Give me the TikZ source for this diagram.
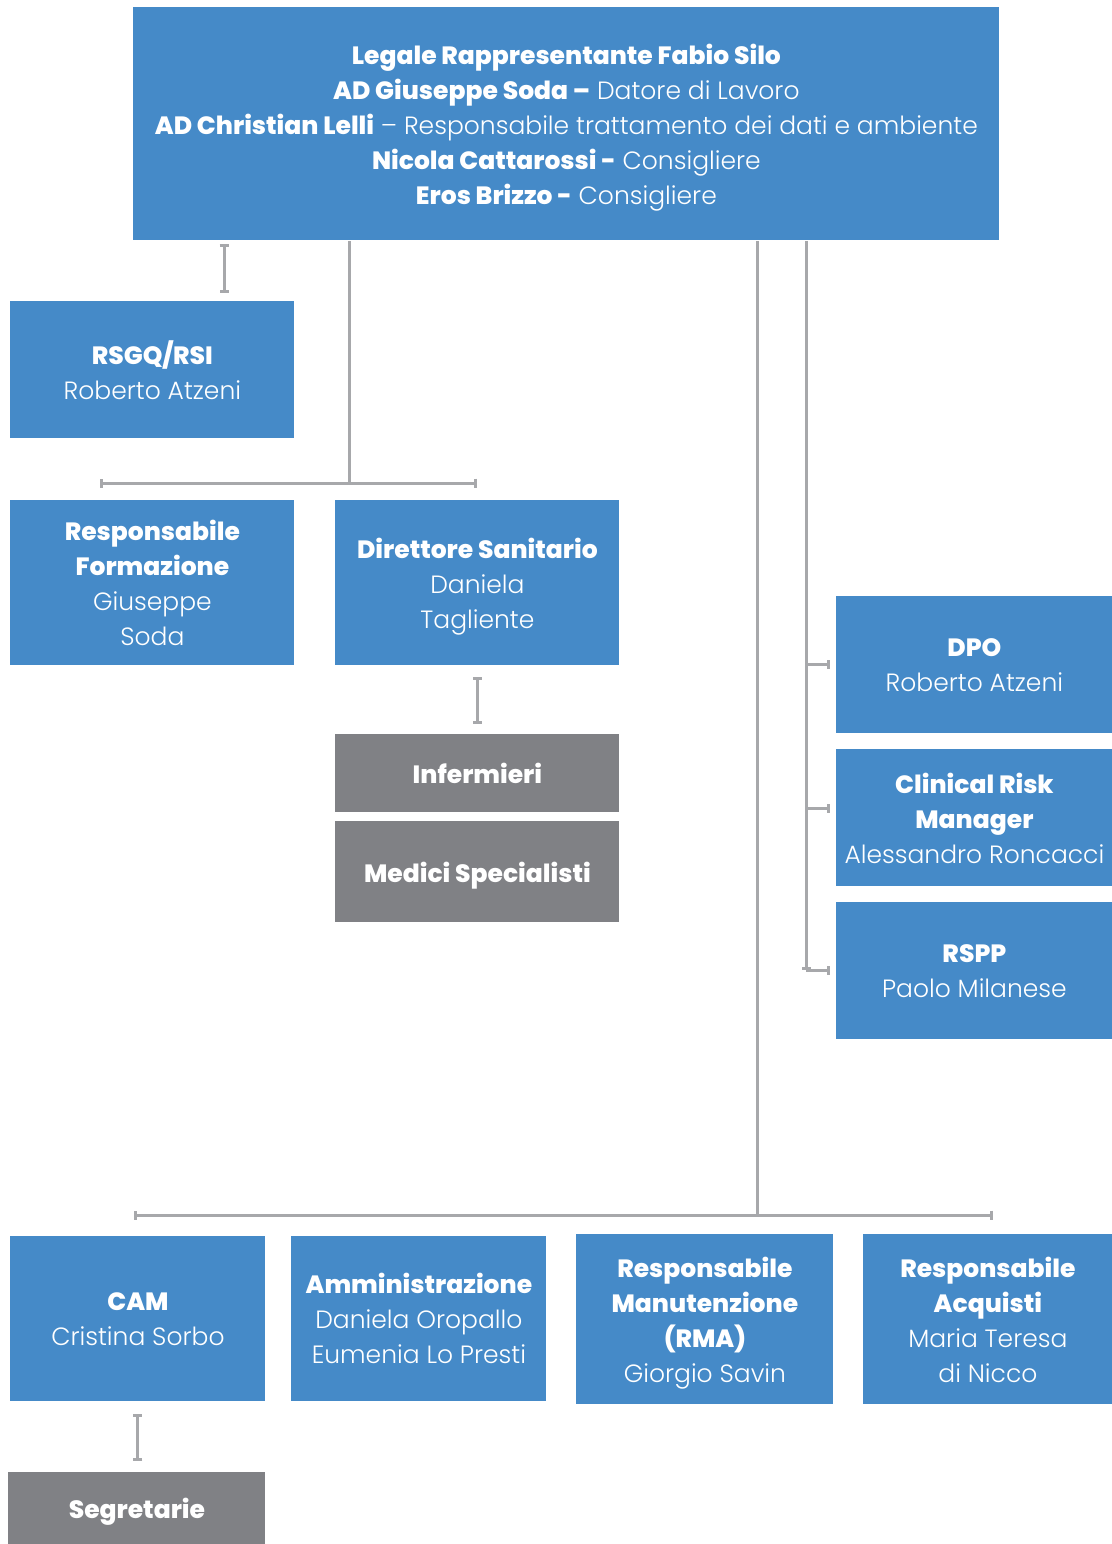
\documentclass[tikz,border=0pt]{standalone}
\usepackage{fontspec}
\setmainfont{Poppins}[UprightFont={* Light}, BoldFont={* ExtraBold}]
\usetikzlibrary{arrows.meta,positioning}
\definecolor{orgblue}{HTML}{458AC8}
\definecolor{orggray}{HTML}{808185}
\definecolor{linegray}{HTML}{A7A8AB}
\newcommand\nodp[1]{\raisebox{0pt}[\height][0pt]{#1}}
\tikzset{
  box/.style={fill=orgblue, text=white, anchor=north west, align=center, inner sep=0pt,
    font=\fontsize{12.5}{17.5}\selectfont},
  graybox/.style={box, fill=orggray, font=\fontsize{12.5}{17.5}\selectfont\bfseries},
  link/.style={draw=linegray, line width=1.5pt},
  barlink/.style={link, {Bar[width=4.5pt]}-{Bar[width=4.5pt]}},
}
\begin{document}
\begin{tikzpicture}[x=0.5pt,y=-0.5pt]
  \useasboundingbox (0,0) rectangle (1112,1544);

  \node[box, minimum width=433pt, minimum height=116.5pt] (board) at (133,7)
    {{\bfseries Legale Rappresentante Fabio Silo}\\
     {\bfseries AD Giuseppe Soda –} Datore di Lavoro\\
     {\bfseries AD Christian Lelli} – Responsabile trattamento dei dati e ambiente\\
     {\bfseries Nicola Cattarossi -} Consigliere\\
     \nodp{{\bfseries Eros Brizzo -} Consigliere}};

  \node[box, minimum width=142pt, minimum height=68.5pt] (rsgq) at (10,301)
    {{\bfseries RSGQ/RSI}\\Roberto Atzeni};
  \draw[barlink] ([shift={(91,3)}]board.south west) -- ([shift={(214,-8)}]rsgq.north west);

  \coordinate (bus1L) at (100,483);
  \coordinate (bus1M) at (349,483);
  \coordinate (bus1R) at (477,483);
  \draw[link] (board.south -| bus1M) -- (bus1M);
  \draw[barlink] (bus1L) -- (bus1R);

  \node[box, minimum width=142pt, minimum height=82.5pt] (formazione) at (10,500)
    {{\bfseries Responsabile}\\{\bfseries Formazione}\\Giuseppe\\Soda};
  \node[box, minimum width=142pt, minimum height=82.5pt] (dirsan) at (335,500)
    {{\bfseries Direttore Sanitario}\\Daniela\\\nodp{Tagliente}};

  \node[graybox, minimum width=142pt, minimum height=39pt] (infermieri) at (335,734) {Infermieri};
  \node[graybox, minimum width=142pt, minimum height=50.5pt] (medici) at (335,821) {\nodp{Medici Specialisti}};
  \draw[barlink] ([yshift=-5.5pt]dirsan.south) -- ([yshift=5pt]infermieri.north);

  \node[box, minimum width=138pt, minimum height=68.5pt] (dpo) at (836,596)
    {{\bfseries DPO}\\Roberto Atzeni};
  \node[box, minimum width=138pt, minimum height=68.5pt] (crm) at (836,749)
    {{\bfseries Clinical Risk}\\{\bfseries Manager}\\Alessandro Roncacci};
  \node[box, minimum width=138pt, minimum height=68.5pt] (rspp) at (836,902)
    {{\bfseries RSPP}\\Paolo Milanese};

  \coordinate (spine) at (806,970);
  \draw[link, -{Bar[width=4.5pt]}] (board.south -| spine) -- (spine);
  \draw[link, -{Bar[width=4.5pt]}] (dpo.west -| spine) -- ([xshift=-3pt]dpo.west);
  \draw[link, -{Bar[width=4.5pt]}] ([yshift=4.5pt]crm.west -| spine) -- ([xshift=-3pt,yshift=4.5pt]crm.west);
  \draw[link, -{Bar[width=4.5pt]}] (rspp.west -| spine) -- ([xshift=-3pt]rspp.west);

  \coordinate (bus2L) at (134,1215);
  \coordinate (bus2M) at (757,1215);
  \coordinate (bus2R) at (993,1215);
  \draw[link] (board.south -| bus2M) -- (bus2M);
  \draw[barlink] (bus2L) -- (bus2R);

  \node[box, minimum width=127.5pt, minimum height=82.5pt] (cam) at (10,1236)
    {{\bfseries CAM}\\Cristina Sorbo};
  \node[box, minimum width=127.5pt, minimum height=82.5pt] (amm) at (291,1236)
    {{\bfseries Amministrazione}\\Daniela Oropallo\\Eumenia Lo Presti};
  \node[box, minimum width=128.5pt, minimum height=85pt] (rma) at (576,1234)
    {{\bfseries Responsabile}\\{\bfseries Manutenzione}\\{\bfseries (RMA)}\\\nodp{Giorgio Savin}};
  \node[box, minimum width=124.5pt, minimum height=85pt] (acquisti) at (863,1234)
    {{\bfseries Responsabile}\\{\bfseries Acquisti}\\Maria Teresa\\di Nicco};

  \node[graybox, minimum width=128.5pt, minimum height=36pt] (segr) at (8,1472) {\nodp{Segretarie}};
  \draw[barlink] ([yshift=-6pt]cam.south) -- ([yshift=5.5pt]cam.south |- segr.north);
\end{tikzpicture}
\end{document}
